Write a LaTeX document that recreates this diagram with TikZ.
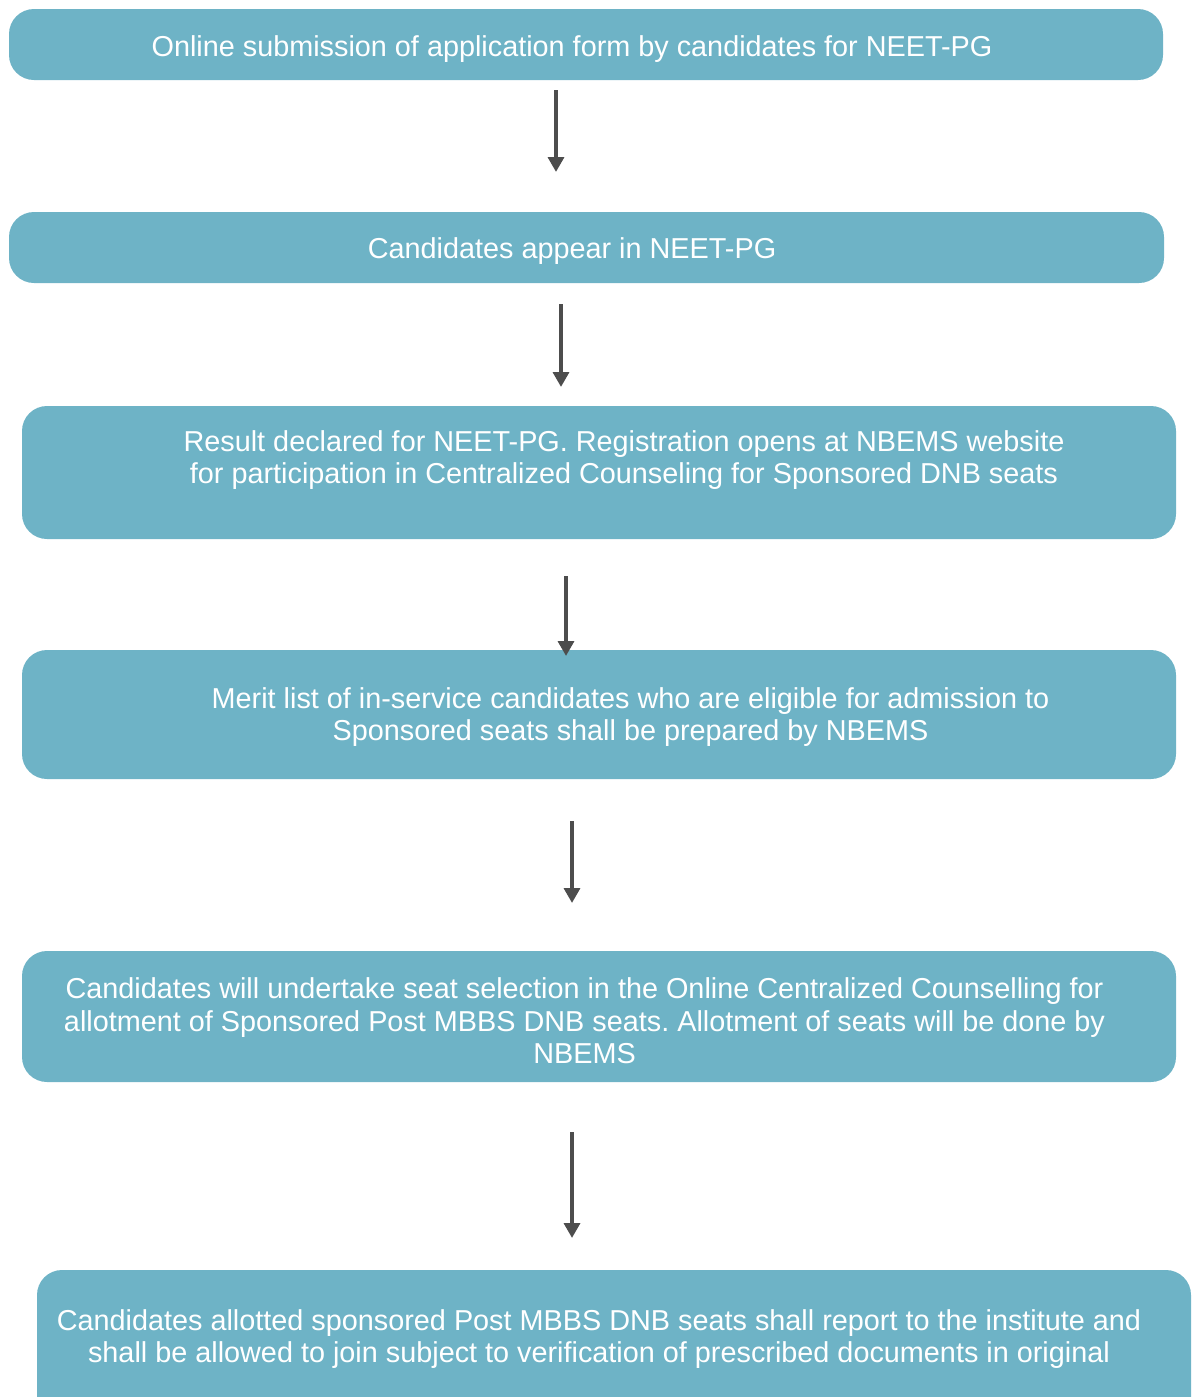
\documentclass[tikz,border=0pt]{standalone}
\usepackage{fontspec}
\setmainfont{Liberation Sans}
\usetikzlibrary{arrows.meta}
\definecolor{stepblue}{HTML}{6EB3C6}
\definecolor{arrowgrey}{HTML}{4D4D4D}
\frenchspacing
\begin{document}
\begin{tikzpicture}[x=0.02cm, y=-0.02cm,
        every text node part/.style={align=center},
        stepbox/.style={fill=stepblue, draw=none, rounded corners=0.5cm},
        steptext/.style={text=white, font=\fontsize{16.4}{18.6}\selectfont, inner sep=0pt},
        flow/.style={draw=arrowgrey, line width=2.2pt, -{Triangle[length=8.5pt, width=9pt]}}]
        \useasboundingbox (0, 0) rectangle (1191, 1397);
        \clip (0, 0) rectangle (1191, 1397);

        \draw[stepbox] (9, 9) rectangle (1163, 80);
        \draw[stepbox] (9, 212) rectangle (1164, 283);
        \draw[stepbox] (22, 406) rectangle (1176, 539);
        \draw[stepbox] (22, 650) rectangle (1176, 779);
        \draw[stepbox] (22, 951) rectangle (1176, 1082);
        \draw[stepbox] (37, 1270) rectangle (1191, 1430);

        \node(submission) at (572, 49)[steptext]{Online submission of application form by candidates for NEET-PG};
        \node(appear) at (572, 251)[steptext]{Candidates appear in NEET-PG};
        \node(result) at (624, 460)[steptext]{Result declared for NEET-PG. Registration opens at NBEMS website\\for participation in Centralized Counseling for Sponsored DNB seats};
        \node(merit) at (630.5, 717)[steptext]{Merit list of in-service candidates who are eligible for admission to\\Sponsored seats shall be prepared by NBEMS};
        \node(selection) at (584.5, 1021)[steptext]{Candidates will undertake seat selection in the Online Centralized Counselling for\\allotment of Sponsored Post MBBS DNB seats. Allotment of seats will be done by\\NBEMS};
        \node(report) at (599, 1339)[steptext]{Candidates allotted sponsored Post MBBS DNB seats shall report to the institute and\\shall be allowed to join subject to verification of prescribed documents in original};

        \coordinate(a1) at (556, 90);   \coordinate(b1) at (556, 172);
        \coordinate(a2) at (561, 304);  \coordinate(b2) at (561, 387);
        \coordinate(a3) at (566, 576);  \coordinate(b3) at (566, 656);
        \coordinate(a4) at (572, 821);  \coordinate(b4) at (572, 903);
        \coordinate(a5) at (572, 1132); \coordinate(b5) at (572, 1238);

        \foreach \i in {1,...,5}
            \draw[flow] (a\i) -- (b\i);
    \end{tikzpicture}
\end{document}
